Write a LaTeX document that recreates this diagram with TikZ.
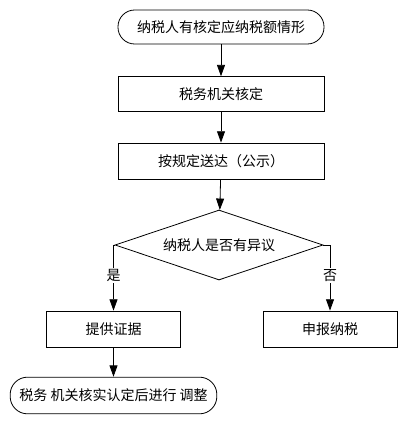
\documentclass[tikz,border=0pt]{standalone}
\usepackage{fontspec}
\setmainfont{Noto Sans CJK SC}
\usetikzlibrary{arrows.meta,shapes.geometric}
\begin{document}
\begin{tikzpicture}[x=0.75pt,y=-0.75pt,
  every node/.style={font=\fontsize{10.5pt}{12pt}\selectfont},
  term/.style={draw,rounded corners=12.5pt,minimum width=154.5pt,minimum height=25.5pt,inner sep=0pt},
  proc/.style={draw,minimum width=154.5pt,minimum height=26pt,inner sep=0pt},
  ask/.style={draw,diamond,aspect=3,minimum width=156pt,minimum height=52.5pt,inner sep=0pt},
  flow/.style={-{Triangle[length=8.5pt,width=6pt]},line width=0.6pt},
  tag/.style={fill=white,inner sep=1pt}]
\useasboundingbox (0,0) rectangle (408,424);
\node[term,line width=0.6pt] (start) at (221,27) {纳税人有核定应纳税额情形};
\node[proc,line width=0.6pt] (check) at (221,94) {税务机关核定};
\node[proc,line width=0.6pt,minimum height=27pt] (send) at (221,161) {按规定送达（公示）};
\node[ask,line width=0.6pt] (obj) at (219,245) {纳税人是否有异议};
\node[proc,line width=0.6pt,minimum width=101pt,minimum height=27pt] (proof) at (113.5,329) {提供证据};
\node[proc,line width=0.6pt,minimum width=100.5pt,minimum height=27pt] (pay) at (330,329) {申报纳税};
\node[term,line width=0.6pt,minimum width=155pt,minimum height=27.5pt,rounded corners=13pt] (adjust) at (113.5,395.5) {税务 机关核实认定后进行 调整};
\draw[flow] (start) -- (check);
\draw[flow] (check) -- (send);
\draw[flow] (send) -- (obj);
\draw[flow] (obj.west) -| node[tag,pos=0.73] {是} (proof.north);
\draw[flow] (obj.east) -| node[tag,pos=0.73] {否} (pay.north);
\draw[flow] (proof) -- (adjust);
\end{tikzpicture}
\end{document}
